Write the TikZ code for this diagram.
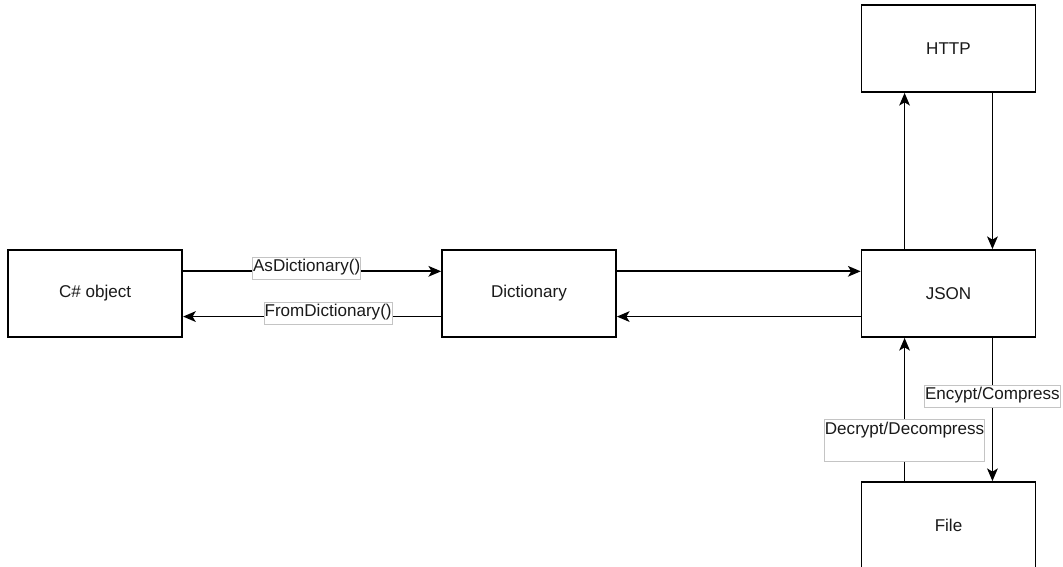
\documentclass[tikz,border=0pt]{standalone}
\usepackage{fontspec}
\setmainfont{Liberation Sans}
\usetikzlibrary{arrows.meta,calc}
\definecolor{txt}{HTML}{1A1A1A}
\definecolor{lblborder}{HTML}{C4C4C4}
\tikzset{
  box/.style={draw=black, line width=1.3pt, fill=white, minimum width=130.5pt, minimum height=65.25pt, inner sep=0pt, text=txt, font=\fontsize{12.8}{15}\selectfont},
  conn/.style={draw=black, line width=1.3pt, -{Stealth[length=9.5pt,width=8pt,inset=2.4pt]}},
  lbl/.style={draw=lblborder, line width=0.6pt, fill=white, inner xsep=0.4pt, inner ysep=1pt, text height=9.7pt, text depth=4.8pt, text=txt, font=\fontsize{12.8}{15}\selectfont},
  tall lbl/.style={lbl, text height=10.25pt, text depth=19.25pt}
}
\begin{document}
\begin{tikzpicture}[x=0.75pt,y=-0.75pt]
\useasboundingbox (0,0) rectangle (1063,567);
\clip (0,0) rectangle (1063,567);
\node[box] (cs) at (95.2,293.5) {C\# object};
\node[box] (dict) at (529,293.5) {Dictionary};
\node[box] (json) at (948.5,293.5) {JSON};
\node[box] (http) at (948.5,48.5) {HTTP};
\node[box] (file) at (948.5,525.5) {File};

\draw[conn] ($(cs.north east)!0.25!(cs.south east)$) -- node[lbl, pos=0.479, yshift=2.25pt] (l1) {AsDictionary()} ($(dict.north west)!0.25!(dict.south west)$);
\draw[conn] ($(dict.north west)!0.76!(dict.south west)$) -- node[lbl, pos=0.438, yshift=2.6pt] (l2) {FromDictionary()} ($(cs.north east)!0.76!(cs.south east)$);
\draw[conn] ($(dict.north east)!0.25!(dict.south east)$) -- ($(json.north west)!0.25!(json.south west)$);
\draw[conn] ($(json.north west)!0.76!(json.south west)$) -- ($(dict.north east)!0.76!(dict.south east)$);
\draw[conn] ($(json.north west)!0.25!(json.north east)$) -- ($(http.south west)!0.25!(http.south east)$);
\draw[conn] ($(http.south west)!0.75!(http.south east)$) -- ($(json.north west)!0.75!(json.north east)$);
\draw[conn] ($(json.south west)!0.75!(json.south east)$) -- node[lbl, pos=0.41] (l3) {Encypt/Compress} ($(file.north west)!0.75!(file.north east)$);
\draw[conn] ($(file.north west)!0.25!(file.north east)$) -- node[tall lbl, pos=0.283] (l4) {Decrypt/Decompress} ($(json.south west)!0.25!(json.south east)$);
\end{tikzpicture}
\end{document}
